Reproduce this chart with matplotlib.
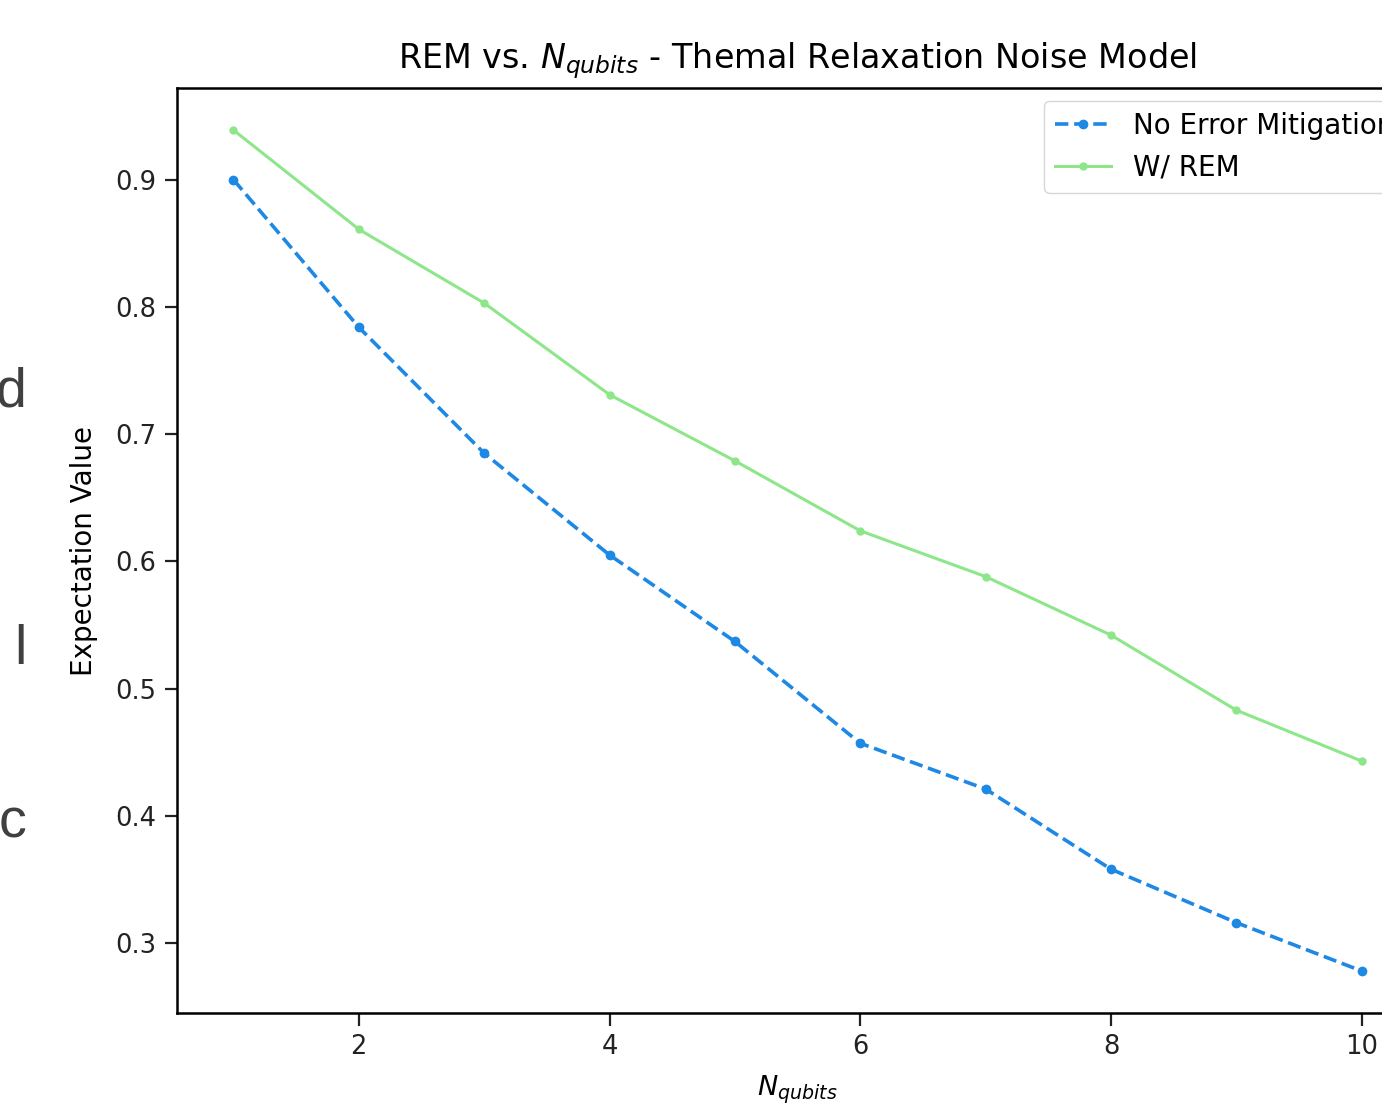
import matplotlib
matplotlib.use("Agg")
import matplotlib.pyplot as plt

n_qubits = [1, 2, 3, 4, 5, 6, 7, 8, 9, 10]
no_mitigation = [0.900, 0.784, 0.685, 0.605, 0.537, 0.457, 0.421, 0.358, 0.316, 0.278]
with_rem = [0.939, 0.861, 0.803, 0.731, 0.679, 0.624, 0.588, 0.542, 0.483, 0.443]

fig = plt.figure(figsize=(13.82, 11.07), dpi=100)
# axes runs past the right edge, like the cropped screenshot
ax = fig.add_axes([0.1281, 0.0849, 0.898, 0.8356])

ax.plot(n_qubits, no_mitigation, '--', marker='.', color='#1e88e5', lw=2.6, ms=12,
        label='No Error Mitigation')
ax.plot(n_qubits, with_rem, '-', marker='.', color='#8ee68a', lw=2.2, ms=10,
        label='W/ REM')

ax.set_xticks([2, 4, 6, 8, 10])
ax.set_yticks([0.3, 0.4, 0.5, 0.6, 0.7, 0.8, 0.9])
ax.tick_params(labelsize=18.5, length=9, width=1.6, colors='#222222', pad=6)
for s in ax.spines.values():
    s.set_linewidth(1.8)

ax.set_title('REM vs. $N_{qubits}$ - Themal Relaxation Noise Model', fontsize=24, pad=14)
ax.set_xlabel('$N_{qubits}$', fontsize=19.5, labelpad=10)
ax.set_ylabel('Expectation Value', fontsize=20, labelpad=12)
ax.legend(loc='upper right', fontsize=20, borderaxespad=0.45, handlelength=2)

# stray letters from the slide next to the chart
for ch, y in [('d', 0.633), ('l', 0.40), ('c', 0.243)]:
    fig.text(0.019, y, ch, ha='right', fontsize=40, color='#404040', family='Liberation Sans')

fig.savefig('out.png', dpi=100)
